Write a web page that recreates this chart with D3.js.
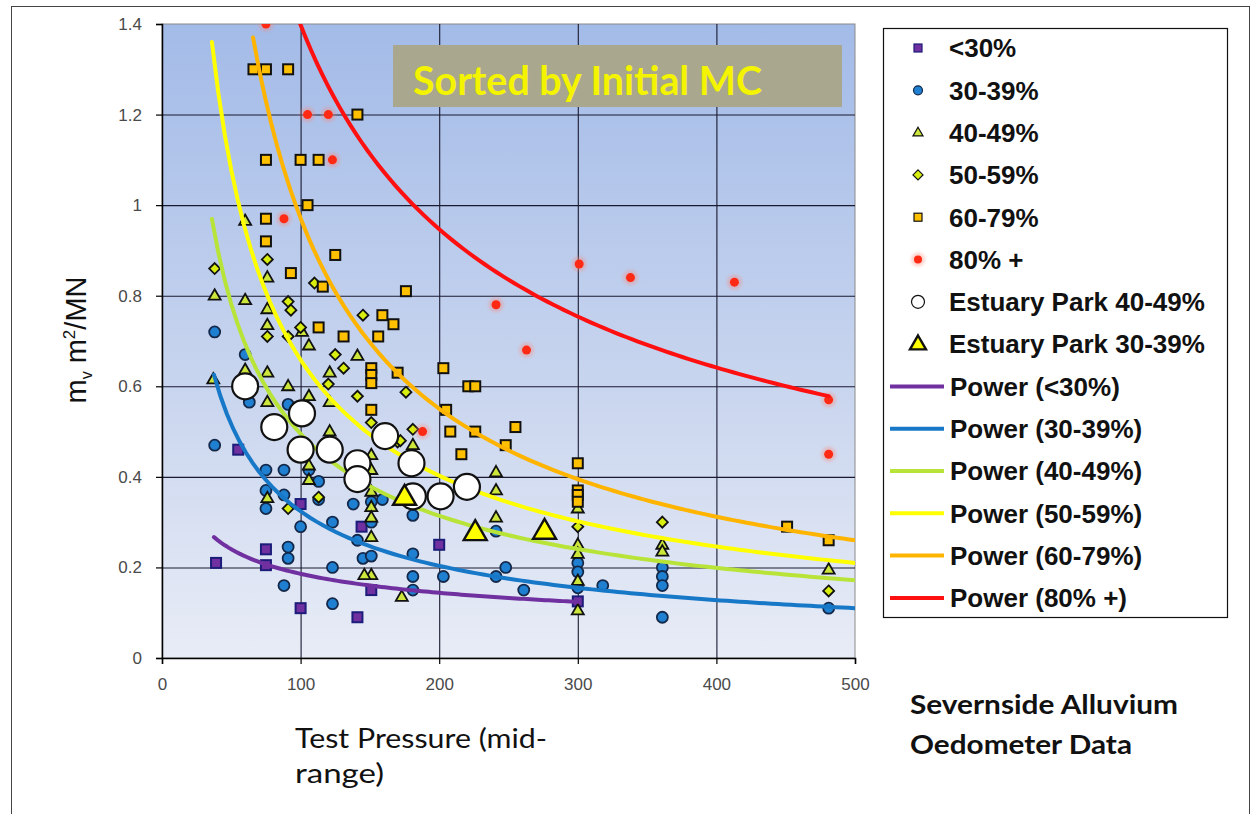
<!DOCTYPE html>
<html><head><meta charset="utf-8">
<script src="https://cdn.jsdelivr.net/npm/d3@7"></script>
<style>body{margin:0;background:#fff}</style>
</head><body>
<svg id="c" width="1257" height="814"></svg>
<script>
// ---------- data ----------
const xTicks = [0, 100, 200, 300, 400, 500];
const yTicks = [0, 0.2, 0.4, 0.6, 0.8, 1, 1.2, 1.4];
const yTickLabels = ["0", "0.2", "0.4", "0.6", "0.8", "1", "1.2", "1.4"];

const mcUnder30 = [[39,0.21],[55,0.46],[75,0.24],[75,0.205],[100,0.34],[100,0.11],[141,0.09],[144,0.29],[151,0.15],[200,0.25],[300,0.125]];
const mc30to39 = [[38,0.72],[38,0.47],[60,0.67],[63,0.565],[75,0.415],[75,0.37],[75,0.33],[88,0.415],[88,0.36],[88,0.16],[91,0.56],[91,0.245],[91,0.22],[100,0.29],[106,0.415],[113,0.39],[113,0.35],[123,0.30],[123,0.20],[123,0.12],[138,0.34],[141,0.26],[145,0.22],[151,0.345],[151,0.30],[151,0.225],[159,0.35],[181,0.315],[181,0.23],[181,0.18],[181,0.15],[203,0.18],[241,0.28],[241,0.18],[248,0.20],[261,0.15],[300,0.21],[300,0.19],[300,0.155],[318,0.16],[361,0.20],[361,0.18],[361,0.16],[361,0.09],[481,0.11]];
const mc40to49 = [[37,0.615],[38,0.80],[60,0.965],[60,0.79],[60,0.636],[76,0.84],[76,0.77],[76,0.735],[76,0.63],[76,0.565],[76,0.353],[91,0.60],[101,0.72],[106,0.69],[106,0.578],[106,0.425],[106,0.393],[121,0.63],[121,0.565],[121,0.50],[141,0.667],[151,0.448],[151,0.415],[151,0.367],[151,0.333],[151,0.31],[151,0.267],[151,0.183],[146,0.183],[173,0.135],[181,0.47],[241,0.41],[241,0.37],[241,0.31],[300,0.33],[300,0.25],[300,0.23],[300,0.17],[300,0.105],[361,0.25],[361,0.235],[481,0.195]];
const mc50to59 = [[38,0.86],[76,0.88],[76,0.71],[91,0.787],[93,0.768],[91,0.71],[91,0.33],[100,0.73],[110,0.828],[113,0.355],[120,0.605],[125,0.67],[131,0.64],[141,0.578],[145,0.757],[151,0.52],[170,0.477],[176,0.587],[181,0.505],[172,0.48],[300,0.29],[361,0.30],[481,0.148]];
const mc60to79 = [[66,1.30],[75,1.30],[91,1.30],[141,1.20],[75,1.10],[100,1.10],[113,1.10],[105,1.00],[75,0.97],[75,0.92],[125,0.89],[93,0.85],[116,0.82],[176,0.81],[113,0.73],[131,0.71],[159,0.757],[167,0.737],[156,0.71],[151,0.64],[151,0.625],[151,0.607],[170,0.63],[151,0.548],[203,0.64],[221,0.60],[226,0.60],[205,0.548],[208,0.50],[226,0.50],[255,0.51],[248,0.47],[216,0.45],[300,0.43],[300,0.37],[300,0.36],[300,0.345],[451,0.29],[481,0.26]];
const mc80plus = [[75,1.40],[105,1.20],[120,1.20],[123,1.10],[88,0.97],[301,0.87],[338,0.84],[241,0.78],[263,0.68],[188,0.50],[413,0.83],[481,0.57],[481,0.45]];
const estuary40to49 = [[60,0.60],[81,0.51],[101,0.54],[100,0.46],[121,0.46],[141,0.43],[141,0.395],[161,0.49],[180,0.43],[181,0.357],[201,0.357],[220,0.378]];
const estuary30to39 = [[175,0.355],[226,0.277],[276,0.28]];

const markerNames = ["<30%", "30-39%", "40-49%", "50-59%", "60-79%", "80% +", "Estuary Park 40-49%", "Estuary Park 30-39%"];
// Power trend lines y = a * x^b
const trendNames = ["Power (<30%)", "Power (30-39%)", "Power (40-49%)", "Power (50-59%)", "Power (60-79%)", "Power (80% +)"];
const trendA = [1.017, 7.11, 10.23, 17.32, 42.2, 18.6];
const trendB = [-0.369, -0.6707, -0.6575, -0.710, -0.819, -0.562];
const trendXmin = [37.5, 37.5, 36, 36, 65.7, 75];
const trendXmax = [300, 500, 500, 500, 500, 481];

// ---------- styles ----------
const trendColors = ["#7030a0", "#1878c8", "#b8e43a", "#ffff00", "#ffb400", "#ff1010"];
const markerStyles = [
  {type: "square", fill: "#7030a0", stroke: "#1c1c7a", size: 10, lsize: 8},
  {type: "circle", fill: "#1f7fd0", stroke: "#14284a", size: 11, lsize: 9},
  {type: "triangle", fill: "#cce63c", stroke: "#111", size: 12, lsize: 10},
  {type: "diamond", fill: "#d8ee10", stroke: "#111", size: 10, lsize: 9},
  {type: "square", fill: "#ffc000", stroke: "#111", size: 10, lsize: 8},
  {type: "dot", fill: "#ff2a14", stroke: "none", size: 10, lsize: 9},
  {type: "circle", fill: "#ffffff", stroke: "#111", size: 26, lsize: 13},
  {type: "triangle", fill: "#ffff00", stroke: "#111", size: 23, lsize: 16}
];
const seriesData = [mcUnder30, mc30to39, mc40to49, mc50to59, mc60to79, mc80plus, estuary40to49, estuary30to39];

// ---------- layout ----------
const svg = d3.select("#c");
const W = 1257, H = 814;
const x = d3.scaleLinear().domain([0, 500]).range([162, 855]);
const y = d3.scaleLinear().domain([0, 1.4]).range([658, 24]);

svg.append("rect").attr("width", W).attr("height", H).attr("fill", "#fff");
svg.append("rect").attr("x", 11.5).attr("y", 6.5).attr("width", 1238).attr("height", 840)
  .attr("fill", "none").attr("stroke", "#444").attr("stroke-width", 1);

const defs = svg.append("defs");
const grad = defs.append("linearGradient").attr("id", "bg").attr("x1", 0).attr("y1", 0).attr("x2", 0).attr("y2", 1);
grad.append("stop").attr("offset", "0%").attr("stop-color", "#a3bbe8");
grad.append("stop").attr("offset", "55%").attr("stop-color", "#c7d4ee");
grad.append("stop").attr("offset", "100%").attr("stop-color", "#e8ecf6");
defs.append("clipPath").attr("id", "clip").append("rect")
  .attr("x", 162).attr("y", 24).attr("width", 693).attr("height", 634);
const blur = defs.append("filter").attr("id", "glow").attr("x", "-100%").attr("y", "-100%").attr("width", "300%").attr("height", "300%");
blur.append("feGaussianBlur").attr("stdDeviation", 1.6);

svg.append("rect").attr("x", 162).attr("y", 24).attr("width", 693).attr("height", 634)
  .attr("fill", "url(#bg)").attr("stroke", "#8a8a8a").attr("stroke-width", 1);

// gridlines
svg.append("g").attr("transform", "translate(0,658)")
  .call(d3.axisBottom(x).tickValues(xTicks.slice(1, -1)).tickSize(-634).tickFormat(""))
  .call(g => g.select(".domain").remove())
  .call(g => g.selectAll("line").attr("stroke", "#1a1a30").attr("stroke-width", 1.1));
svg.append("g").attr("transform", "translate(162,0)")
  .call(d3.axisLeft(y).tickValues(yTicks.slice(1, -1)).tickSize(-693).tickFormat(""))
  .call(g => g.select(".domain").remove())
  .call(g => g.selectAll("line").attr("stroke", "#1a1a30").attr("stroke-width", 1.1));

// title box
svg.append("rect").attr("x", 393).attr("y", 45).attr("width", 449).attr("height", 62)
  .attr("fill", "#a9a78e");
svg.append("text").attr("x", 413).attr("y", 95).attr("fill", "#f4f400")
  .attr("font-family", "Lato, 'Open Sans', sans-serif").attr("font-weight", "bold")
  .attr("font-size", 40).attr("textLength", 349).attr("lengthAdjust", "spacingAndGlyphs")
  .text("Sorted by Initial MC");

// axes
const yAxis = svg.append("g").attr("transform", "translate(162,0)")
  .call(d3.axisLeft(y).tickValues(yTicks).tickSize(6).tickPadding(14)
    .tickFormat((d, i) => yTickLabels[i]));
const xAxis = svg.append("g").attr("transform", "translate(0,658)")
  .call(d3.axisBottom(x).tickValues(xTicks).tickSize(6).tickPadding(14).tickFormat(d3.format("d")));
[yAxis, xAxis].forEach(g => {
  g.select(".domain").attr("stroke", "#000").attr("stroke-width", 1.5);
  g.selectAll(".tick line").attr("stroke", "#000").attr("stroke-width", 1.2);
  g.selectAll(".tick text").attr("font-family", "'Liberation Sans', Arial, sans-serif")
    .attr("font-size", 17).attr("fill", "#4a4a4a");
});

// markers
function drawMarker(g, st, cx, cy, legend) {
  const s = legend ? st.lsize : st.size;
  if (st.type === "square") {
    g.append("rect").attr("x", cx - s / 2).attr("y", cy - s / 2).attr("width", s).attr("height", s)
      .attr("fill", st.fill).attr("stroke", st.stroke).attr("stroke-width", legend ? 1.2 : 2);
  } else if (st.type === "circle") {
    g.append("circle").attr("cx", cx).attr("cy", cy).attr("r", s / 2)
      .attr("fill", st.fill).attr("stroke", st.stroke).attr("stroke-width", s > 15 ? 2.2 : (legend ? 1.2 : 1.8));
  } else if (st.type === "triangle") {
    const h = s * Math.sqrt(3) / 2;
    g.append("path").attr("d", `M${cx},${cy - h * 0.62} L${cx + s / 2},${cy + h * 0.38} L${cx - s / 2},${cy + h * 0.38}Z`)
      .attr("fill", st.fill).attr("stroke", st.stroke).attr("stroke-width", s > 15 ? 2.4 : (legend ? 1.2 : 1.8))
      .attr("stroke-linejoin", "miter");
  } else if (st.type === "diamond") {
    const r = s / 2 + 0.5;
    g.append("path").attr("d", `M${cx},${cy - r} L${cx + r},${cy} L${cx},${cy + r} L${cx - r},${cy}Z`)
      .attr("fill", st.fill).attr("stroke", st.stroke).attr("stroke-width", legend ? 1.2 : 1.8);
  } else if (st.type === "dot") {
    g.append("circle").attr("cx", cx).attr("cy", cy).attr("r", s / 2 + 2.5)
      .attr("fill", "#ff8070").attr("opacity", 0.35).attr("filter", "url(#glow)");
    g.append("circle").attr("cx", cx).attr("cy", cy).attr("r", s / 2 - 0.5).attr("fill", st.fill);
  }
}

const plot = svg.append("g").attr("clip-path", "url(#clip)");
[0, 1, 2, 3, 4, 5].forEach(i => {
  const g = plot.append("g");
  seriesData[i].forEach(d => drawMarker(g, markerStyles[i], x(d[0]), y(d[1]), false));
});

// trend lines
const line = d3.line().x(d => x(d[0])).y(d => y(d[1]));
trendNames.forEach((n, i) => {
  const pts = d3.range(0, 101).map(k => {
    const xv = trendXmin[i] + (trendXmax[i] - trendXmin[i]) * k / 100;
    return [xv, trendA[i] * Math.pow(xv, trendB[i])];
  });
  plot.append("path").attr("d", line(pts)).attr("fill", "none")
    .attr("stroke", trendColors[i]).attr("stroke-width", 4).attr("stroke-linecap", "round");
});

// estuary series
[6, 7].forEach(i => {
  const g = plot.append("g");
  seriesData[i].forEach(d => drawMarker(g, markerStyles[i], x(d[0]), y(d[1]), false));
});

// axis titles
const yt = svg.append("text").attr("transform", "translate(86,340) rotate(-90)")
  .attr("text-anchor", "middle").attr("font-family", "'Liberation Sans', Arial, sans-serif")
  .attr("font-size", 29).attr("fill", "#111");
yt.append("tspan").text("m");
yt.append("tspan").attr("font-size", 16).attr("dy", 6).text("v");
yt.append("tspan").attr("dy", -6).text(" m");
yt.append("tspan").attr("font-size", 17).attr("dy", -11).text("2");
yt.append("tspan").attr("dy", 11).text("/MN");

const xtFont = "Lato, 'Open Sans', sans-serif";
svg.append("text").attr("x", 295).attr("y", 748).attr("font-family", xtFont).attr("font-size", 26)
  .attr("fill", "#111").attr("textLength", 252).attr("lengthAdjust", "spacingAndGlyphs").text("Test Pressure (mid-");
svg.append("text").attr("x", 295).attr("y", 783).attr("font-family", xtFont).attr("font-size", 26)
  .attr("fill", "#111").attr("textLength", 89).attr("lengthAdjust", "spacingAndGlyphs").text("range)");

svg.append("text").attr("x", 910).attr("y", 714).attr("font-family", xtFont).attr("font-weight", "bold")
  .attr("font-size", 27).attr("fill", "#111").attr("textLength", 268).attr("lengthAdjust", "spacingAndGlyphs")
  .text("Severnside Alluvium");
svg.append("text").attr("x", 910).attr("y", 754).attr("font-family", xtFont).attr("font-weight", "bold")
  .attr("font-size", 27).attr("fill", "#111").attr("textLength", 222).attr("lengthAdjust", "spacingAndGlyphs")
  .text("Oedometer Data");

// legend
const lg = svg.append("g");
lg.append("rect").attr("x", 883.5).attr("y", 28.5).attr("width", 344).attr("height", 589)
  .attr("fill", "#fff").attr("stroke", "#111").attr("stroke-width", 1.2);
const rowY = i => 48 + i * 42.3;
markerNames.forEach((n, i) => {
  drawMarker(lg, markerStyles[i], 918, rowY(i), true);
  lg.append("text").attr("x", 949).attr("y", rowY(i)).attr("dy", "0.36em")
    .attr("font-family", "'Liberation Sans', Arial, sans-serif").attr("font-weight", "bold")
    .attr("font-size", 26).attr("fill", "#111").text(n);
});
trendNames.forEach((n, j) => {
  const i = j + 8;
  lg.append("line").attr("x1", 890).attr("x2", 944).attr("y1", rowY(i)).attr("y2", rowY(i))
    .attr("stroke", trendColors[j]).attr("stroke-width", 4);
  lg.append("text").attr("x", 950).attr("y", rowY(i)).attr("dy", "0.36em")
    .attr("font-family", "'Liberation Sans', Arial, sans-serif").attr("font-weight", "bold")
    .attr("font-size", 26).attr("fill", "#111").text(n);
});
</script>
</body></html>
